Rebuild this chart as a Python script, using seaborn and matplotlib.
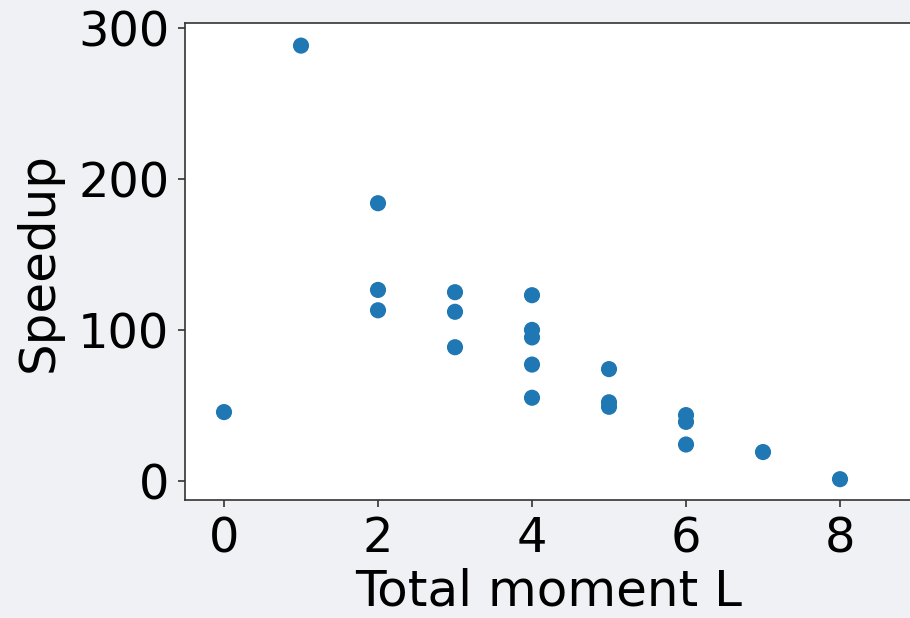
import matplotlib
matplotlib.use("Agg")
import matplotlib.pyplot as plt
import seaborn as sns
import pandas as pd

total_moment = [0, 1, 2, 2, 2, 3, 3, 3, 4, 4, 4, 4, 4, 5, 5, 5, 6, 6, 6, 7, 8]
speedup = [45.5, 288.5, 184, 126.5, 113, 125, 112, 88.5, 123, 100, 95, 77, 55, 74, 52, 49, 43.5, 39, 24, 19, 1]

df = pd.DataFrame({"Total moment L": total_moment, "Speedup": speedup})

sns.set_style("white")
plt.rcParams['font.family'] = ['DejaVu Sans']
plt.rcParams['text.color'] = 'black'
plt.rcParams['axes.labelcolor'] = 'black'
plt.rcParams['xtick.color'] = 'black'
plt.rcParams['ytick.color'] = 'black'

bg = "#f0f1f4"
fig = plt.figure(figsize=(9.1, 6.18), dpi=100, facecolor=bg)
ax = fig.add_axes([184.5 / 910, 118 / 618, (912 - 184.5) / 910, (500 - 23) / 618])
ax.set_facecolor("white")

sns.scatterplot(data=df, x="Total moment L", y="Speedup", ax=ax,
                color="#1f77b4", s=135, edgecolor="none", linewidth=0)

ax.set_xlim(-0.513, 8.935)
ax.set_ylim(-12.8, 303.5)
ax.set_xticks([0, 2, 4, 6, 8])
ax.set_yticks([0, 100, 200, 300])
ax.tick_params(axis="both", labelsize=34.5, length=5, width=1.2, color="#333333",
               labelcolor="black", bottom=True, left=True, pad=6)
ax.tick_params(axis="x", pad=6)
ax.set_xlabel("Total moment L", fontsize=36, labelpad=4, color="black")
ax.set_ylabel("Speedup", fontsize=36, labelpad=11, color="black")
for sp in ax.spines.values():
    sp.set_color("#333333")
    sp.set_linewidth(1.2)

fig.savefig("out.png", dpi=100, facecolor=bg)
